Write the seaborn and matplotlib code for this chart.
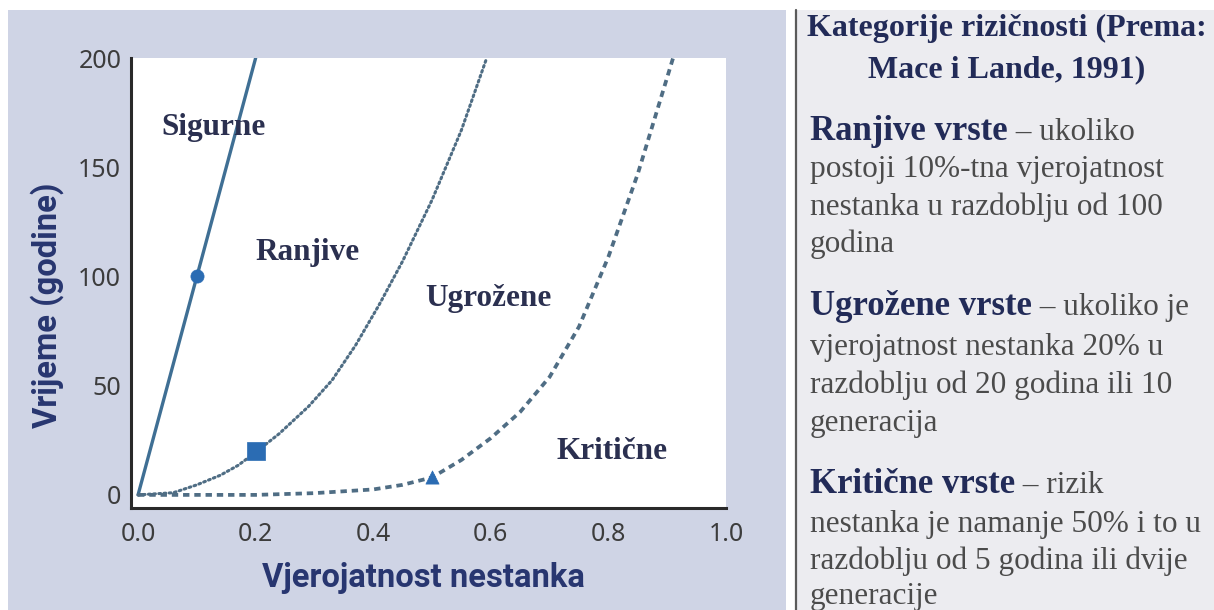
import matplotlib
matplotlib.use("Agg")
import matplotlib.pyplot as plt
import seaborn as sns
import pandas as pd
from matplotlib import font_manager as fm
from matplotlib.patches import Rectangle
from matplotlib.lines import Line2D

# ---------------- data ----------------
p_safe = [0.0, 0.1, 0.2]
t_safe = [0, 100, 200]

p_vuln = [0.0, 0.06, 0.10, 0.14, 0.17, 0.20, 0.24, 0.29, 0.33, 0.37, 0.41, 0.45, 0.50, 0.55, 0.593]
t_vuln = [0, 1, 4.6, 9, 13.5, 19.5, 28, 40.5, 52.5, 68.5, 87, 107, 135, 167, 200]

p_crit = [0.0, 0.1, 0.2, 0.3, 0.4, 0.45, 0.5, 0.55, 0.6, 0.65, 0.7, 0.75, 0.8, 0.85, 0.91]
t_crit = [0, 0, 0, 0.8, 2.5, 4.6, 8, 16, 26, 38, 54, 77, 109, 147, 200]

marker_p = [0.1, 0.2, 0.5]
marker_t = [100, 20, 8]
marker_kind = ["o", "s", "^"]

x_ticks = [0.0, 0.2, 0.4, 0.6, 0.8, 1.0]
y_ticks = [0, 50, 100, 150, 200]

region_labels = ["Sigurne", "Ranjive", "Ugrožene", "Kritične"]
region_pos_p = [0.039, 0.20, 0.488, 0.712]
region_pos_t = [168, 111, 90, 20]

xlabel = "Vjerojatnost nestanka"
ylabel = "Vrijeme (godine)"

title_lines = ["Kategorije rizičnosti (Prema:", "Mace i Lande, 1991)"]
sections = [
    ("Ranjive vrste", " – ukoliko",
     ["postoji 10%-tna vjerojatnost", "nestanka u razdoblju od 100", "godina"]),
    ("Ugrožene vrste", " – ukoliko je",
     ["vjerojatnost nestanka 20% u", "razdoblju od 20 godina ili 10", "generacija"]),
    ("Kritične vrste", " – rizik",
     ["nestanka je namanje 50% i to u", "razdoblju od 5 godina ili dvije", "generacije"]),
]

# ---------------- style ----------------
sns.set_style("white")
avail = {f.name for f in fm.fontManager.ttflist}
COND = "Liberation Sans Narrow" if "Liberation Sans Narrow" in avail else "Roboto"
COND_SIZE = 27 if COND == "Liberation Sans Narrow" else 23.6
SERIF = "Liberation Serif"
TICKF = "Noto Sans" if "Noto Sans" in avail else "DejaVu Sans"
plt.rcParams["font.family"] = ["DejaVu Sans"]

W, H = 1214, 610
fig = plt.figure(figsize=(W / 100, H / 100), dpi=100)
fig.patch.set_facecolor("white")


def fx(px):
    return px / W


def fy(py):
    return 1 - py / H


# panels
fig.add_artist(Rectangle((fx(8), 0), fx(786) - fx(8), fy(10), transform=fig.transFigure,
                         facecolor="#cfd4e5", edgecolor="none", zorder=-10))
fig.add_artist(Rectangle((fx(797), 0), 1 - fx(797), fy(10), transform=fig.transFigure,
                         facecolor="#ececf0", edgecolor="none", zorder=-10))
fig.add_artist(Line2D([fx(796), fx(796)], [0, fy(10)], transform=fig.transFigure,
                      color="#5a5a5a", lw=1.6))

ax = fig.add_axes([fx(131), fy(508), fx(726) - fx(131), (508 - 58) / H])
ax.set_facecolor("white")

line_col = "#3f6f94"
curve_col = "#4f6d84"
mark_col = "#2b6cb3"

sns.lineplot(x=p_safe, y=t_safe, ax=ax, color=line_col, lw=2.4, linestyle="-")
sns.lineplot(x=p_vuln, y=t_vuln, ax=ax, color=curve_col, lw=2.2, linestyle=(0, (0.6, 1.1)),
             dash_capstyle="round")
sns.lineplot(x=p_crit, y=t_crit, ax=ax, color=curve_col, lw=2.7, linestyle=(0, (1.7, 1.3)))

mdf = pd.DataFrame({"p": marker_p, "t": marker_t, "k": marker_kind})
sizes = {"o": 90, "s": 150, "^": 90}
for k in marker_kind:
    sub = mdf[mdf["k"] == k]
    sns.scatterplot(data=sub, x="p", y="t", ax=ax, marker=k, s=sizes[k], color=mark_col,
                    edgecolor=mark_col, linewidth=0.5, zorder=5)

for lab, px_, py_ in zip(region_labels, region_pos_p, region_pos_t):
    ax.text(px_, py_, lab, family=SERIF, weight="bold", fontsize=22.5, color="#2b3050",
            ha="left", va="center")

ax.set_xlim(-0.012, 1.0)
ax.set_ylim(-6, 200)
ax.set_xticks(x_ticks)
ax.set_yticks(y_ticks)
ax.set_xticklabels([f"{v:.1f}" for v in x_ticks])
ax.set_yticklabels([str(v) for v in y_ticks])
for lab in ax.get_xticklabels() + ax.get_yticklabels():
    lab.set_family(TICKF)
ax.tick_params(axis="both", direction="in", length=14, width=2.2, color="#2a2a2a",
               labelsize=18, labelcolor="#3c3c3c")
ax.tick_params(axis="x", pad=10)
ax.tick_params(axis="y", pad=7)
for s in ["top", "right"]:
    ax.spines[s].set_visible(False)
for s in ["left", "bottom"]:
    ax.spines[s].set_linewidth(2.2)
    ax.spines[s].set_color("#2a2a2a")

ax.set_xlabel(xlabel, family=COND, weight="bold", fontsize=COND_SIZE, color="#283670")
ax.set_ylabel(ylabel, family=COND, weight="bold", fontsize=COND_SIZE, color="#283670")
ax.xaxis.label.set_verticalalignment("center")
ax.yaxis.label.set_verticalalignment("center")
ax.xaxis.set_label_coords(0.492, -0.156)
ax.yaxis.set_label_coords(-0.141, 0.451)

# ---------------- right text panel ----------------
navy = "#222b58"
gray = "#4b4b4b"
title_base = [36, 77]
for line, b in zip(title_lines, title_base):
    fig.text(fx(1007), fy(b), line, family=SERIF, weight="bold", fontsize=23, color=navy,
             ha="center", va="baseline")

renderer = fig.canvas.get_renderer()
head_base = [140, 315, 493]
body_base = [[177, 215, 252], [355, 393, 431], [532, 569, 604]]
for (head, rest, lines), hb, bbs in zip(sections, head_base, body_base):
    t = fig.text(fx(810), fy(hb), head, family=SERIF, weight="bold", fontsize=25, color=navy,
                 ha="left", va="baseline")
    bb = t.get_window_extent(renderer)
    fig.text(bb.x1 / W, fy(hb), rest, family=SERIF, fontsize=22.5, color=gray,
             ha="left", va="baseline")
    for ln, b in zip(lines, bbs):
        fig.text(fx(810), fy(b), ln, family=SERIF, fontsize=22.5, color=gray,
                 ha="left", va="baseline")

fig.savefig("out.png", dpi=100, facecolor="white")
